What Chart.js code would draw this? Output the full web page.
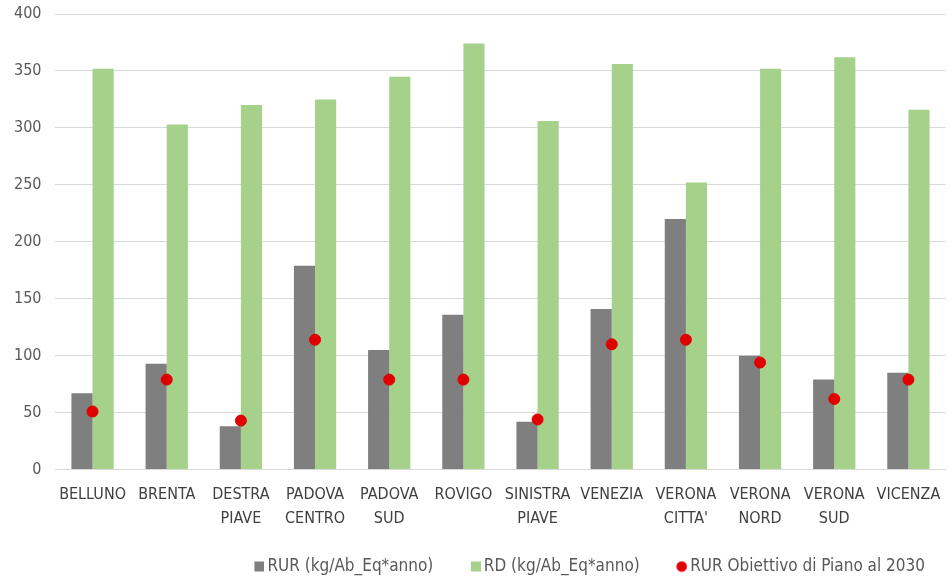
<!DOCTYPE html>
<html>
<head>
<meta charset="utf-8">
<script src="https://cdn.jsdelivr.net/npm/chart.js@4/dist/chart.umd.min.js"></script>
<style>
  html, body { margin: 0; padding: 0; background: #fff; }
  #wrap { width: 952px; height: 582px; }
</style>
</head>
<body>
<div id="wrap"><canvas id="grafico"></canvas></div>
<script>
// Dati
const bacini = [
    "BELLUNO", "BRENTA", ["DESTRA", "PIAVE"], ["PADOVA", "CENTRO"], ["PADOVA", "SUD"], "ROVIGO",
    ["SINISTRA", "PIAVE"], "VENEZIA", ["VERONA", "CITTA'"], ["VERONA", "NORD"], ["VERONA", "SUD"], "VICENZA"
];
const rur = [67, 93, 38, 179, 105, 136, 42, 141, 220, 100, 79, 85];
const rd = [352, 303, 320, 325, 345, 374, 306, 356, 252, 352, 362, 316];
const obiettivo2030 = [51, 79, 43, 114, 79, 79, 44, 110, 114, 94, 62, 79];
const yTicks = [0, 50, 100, 150, 200, 250, 300, 350, 400];

const colori = ['#7f7f7f', '#a5d18b', '#e00000'];
const fontFam = "'Liberation Sans Narrow', 'DejaVu Sans Condensed', 'Liberation Sans', sans-serif";

// icone della legenda: simbolo spostato a destra, vicino al testo
const LARGH_BOX = 20;
function iconaLegenda(colore, cerchio) {
    const c = document.createElement("canvas");
    c.width = LARGH_BOX + 11;
    c.height = 12;
    const g = c.getContext("2d");
    g.fillStyle = colore;
    if (cerchio) {
        g.beginPath();
        g.arc(c.width - 5.5, 6, 5.3, 0, Math.PI * 2);
        g.fill();
    } else {
        g.fillRect(c.width - 10, 1, 10, 10);
    }
    return c;
}
const icone = [iconaLegenda(colori[0], false), iconaLegenda(colori[1], false), iconaLegenda(colori[2], true)];

const ctx = document.getElementById("grafico").getContext("2d");
new Chart(ctx, {
    type: 'bar',
    data: {
        labels: bacini,
        datasets: [
            {
                label: 'RUR (kg/Ab_Eq*anno)',
                data: rur,
                backgroundColor: colori[0],
                order: 2
            },
            {
                label: 'RD (kg/Ab_Eq*anno)',
                data: rd,
                backgroundColor: colori[1],
                order: 2
            },
            {
                type: 'line',
                label: 'RUR Obiettivo di Piano al 2030',
                data: obiettivo2030,
                showLine: false,
                pointStyle: 'circle',
                pointRadius: 5.5,
                pointHoverRadius: 5.5,
                pointBackgroundColor: colori[2],
                pointBorderColor: colori[2],
                backgroundColor: colori[2],
                borderColor: colori[2],
                order: 1
            }
        ]
    },
    options: {
        responsive: true,
        maintainAspectRatio: false,
        animation: false,
        layout: { padding: { top: 14, right: 5, left: 0, bottom: -3 } },
        datasets: {
            bar: { barPercentage: 1, categoryPercentage: 0.57 }
        },
        plugins: {
            tooltip: { enabled: false },
            legend: {
                position: 'bottom',
                align: 'end',
                labels: {
                    usePointStyle: true,
                    pointStyleWidth: LARGH_BOX,
                    boxWidth: 10,
                    boxHeight: 10,
                    padding: 22,
                    color: '#595959',
                    font: { family: fontFam, size: 17 },
                    sort: (a, b) => a.datasetIndex - b.datasetIndex,
                    generateLabels: chart => {
                        const items = Chart.defaults.plugins.legend.labels.generateLabels(chart);
                        items.forEach(it => { it.pointStyle = icone[it.datasetIndex]; });
                        return items;
                    }
                }
            }
        },
        scales: {
            x: {
                offset: true,
                grid: { display: false },
                border: { color: '#d9d9d9' },
                ticks: {
                    color: '#404040',
                    autoSkip: false,
                    maxRotation: 0,
                    padding: 6,
                    font: { family: fontFam, size: 16, lineHeight: 1.45 }
                }
            },
            y: {
                min: 0,
                max: 400,
                afterBuildTicks: axis => { axis.ticks = yTicks.map(v => ({ value: v })); },
                afterFit: axis => { axis.paddingTop = 0; },
                grid: { color: '#d9d9d9', drawTicks: false },
                border: { display: false },
                ticks: {
                    color: '#595959',
                    padding: 14,
                    font: { family: fontFam, size: 16 }
                }
            }
        }
    }
});
</script>
</body>
</html>
